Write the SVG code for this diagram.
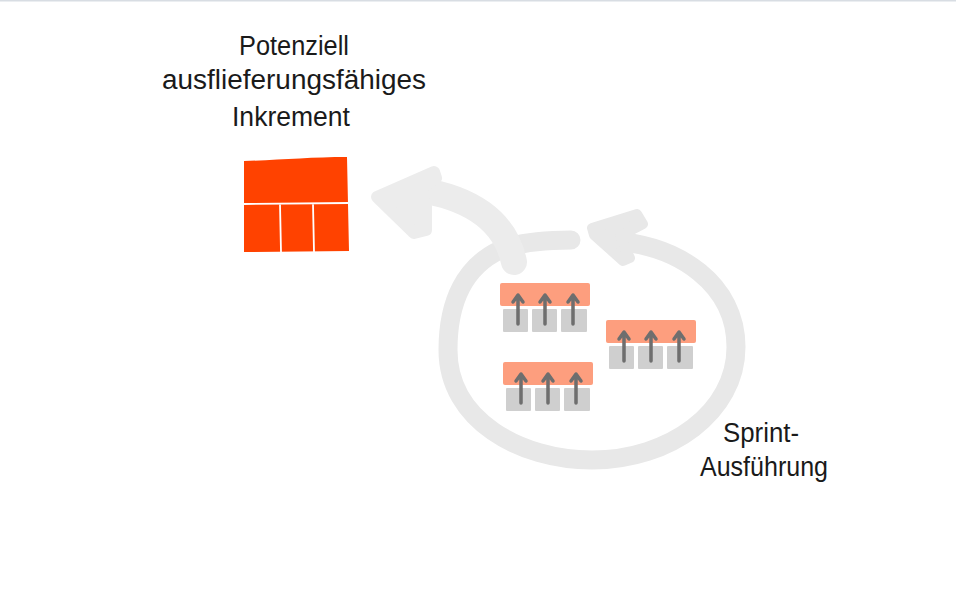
<svg xmlns="http://www.w3.org/2000/svg" xmlns:xlink="http://www.w3.org/1999/xlink" width="956" height="597" viewBox="0 0 956 597">
<style>
.lbl{font-family:"Liberation Sans","Open Sans",sans-serif;font-size:27px;fill:#1a1a1a;text-anchor:middle}
.loop{fill:none;stroke:#e8e8e8;stroke-linecap:round}
.loophead{fill:#e8e8e8;stroke:#e8e8e8;stroke-width:10;stroke-linejoin:round}
.big{fill:none;stroke:#ececec;stroke-linecap:round}
.bighead{fill:#ececec;stroke:#ececec;stroke-width:12;stroke-linejoin:round}
.bar{fill:#fd9e7e}
.sq{fill:#cfcfcf}
.ar{fill:none;stroke:#6e6e6e;stroke-width:3.5;stroke-linecap:round;stroke-linejoin:round}
.inc{fill:#ff4200}
.sep{stroke:#fff;stroke-width:1.8;fill:none}
</style>
<defs>
<g id="item">
<rect class="bar" x="0" y="0" width="90" height="23" rx="2"/>
<rect class="sq" x="3" y="26" width="25" height="23" rx="1"/>
<rect class="sq" x="32" y="26" width="25" height="23" rx="1"/>
<rect class="sq" x="61" y="26" width="26" height="23" rx="1"/>
<path class="ar" d="M18 41V13M13 19L18 12L23 19"/>
<path class="ar" d="M45 41V13M40 19L45 12L50 19"/>
<path class="ar" d="M73 41V13M68 19L73 12L78 19"/>
</g>
</defs>
<rect x="0" y="0" width="956" height="1.5" fill="#d8dde3"/>
<g id="connectors">
<path class="loop" stroke-width="19" d="M 571 240 C 540 240, 515 244, 500 250 C 466 266, 448 300, 448 350 C 448 420, 520 460, 592 460 C 670 460, 736 412, 736 347 C 736 285, 680 245, 612 241"/>
<polygon class="loophead" points="592,228 637,214 643,224 620,236 630,258 623,261 594,235"/>
<path class="big" stroke-width="26" d="M 514 262 C 505 220, 470 198, 420 190"/>
<polygon class="bighead" points="377,197 434,172 436,178 420,190 426,206 426,230 414,233"/>
</g>
<g id="increment">
<path class="inc" d="M244 161 C 280 160, 310 157, 347 157 L 349 251 L 244 252 Z"/>
<path class="sep" d="M244 204 L349 203 M280 204 L281 252 M313 204 L314 252"/>
</g>
<g id="label-increment">
<text class="lbl" x="294" y="55" textLength="110" lengthAdjust="spacingAndGlyphs">Potenziell</text>
<text class="lbl" x="294" y="89" textLength="264" lengthAdjust="spacingAndGlyphs">ausflieferungsfähiges</text>
<text class="lbl" x="291" y="126" textLength="118" lengthAdjust="spacingAndGlyphs">Inkrement</text>
</g>
<g id="item1"><use xlink:href="#item" x="500" y="283"/></g>
<g id="item2"><use xlink:href="#item" x="606" y="320"/></g>
<g id="item3"><use xlink:href="#item" x="503" y="362"/></g>
<g id="label-sprint">
<text class="lbl" x="761" y="442" textLength="76" lengthAdjust="spacingAndGlyphs">Sprint-</text>
<text class="lbl" x="764" y="476" textLength="128" lengthAdjust="spacingAndGlyphs">Ausführung</text>
</g>
</svg>
